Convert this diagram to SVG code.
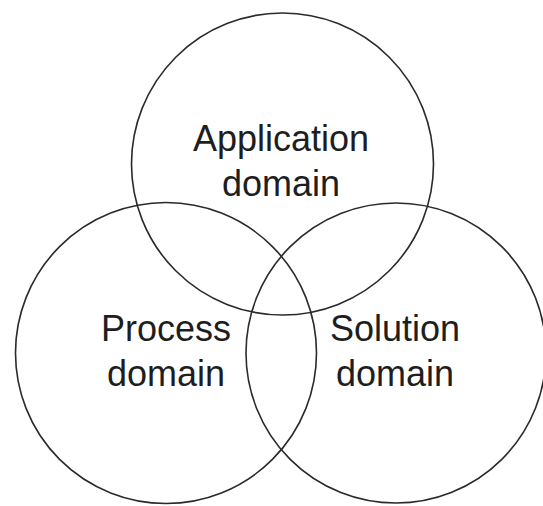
<svg xmlns="http://www.w3.org/2000/svg" width="543" height="506" viewBox="0 0 543 506">
<style>
.c{fill:none;stroke:#2a2a2a;stroke-width:1.6}
.t{font-family:"Liberation Sans",Arial,sans-serif;font-size:36px;fill:#1e1e1e;text-anchor:middle}
</style>
<rect width="543" height="506" fill="#fff"/>
<g id="application">
<circle class="c" cx="282.5" cy="164" r="151"/>
<text class="t" x="281" y="151">Application</text>
<text class="t" x="281" y="195.5">domain</text>
</g>
<g id="process">
<circle class="c" cx="166" cy="353" r="150.5"/>
<text class="t" x="166" y="341">Process</text>
<text class="t" x="166" y="386">domain</text>
</g>
<g id="solution">
<circle class="c" cx="396" cy="353" r="150"/>
<text class="t" x="395" y="341">Solution</text>
<text class="t" x="395" y="386">domain</text>
</g>
<g id="connectors"/>
</svg>
